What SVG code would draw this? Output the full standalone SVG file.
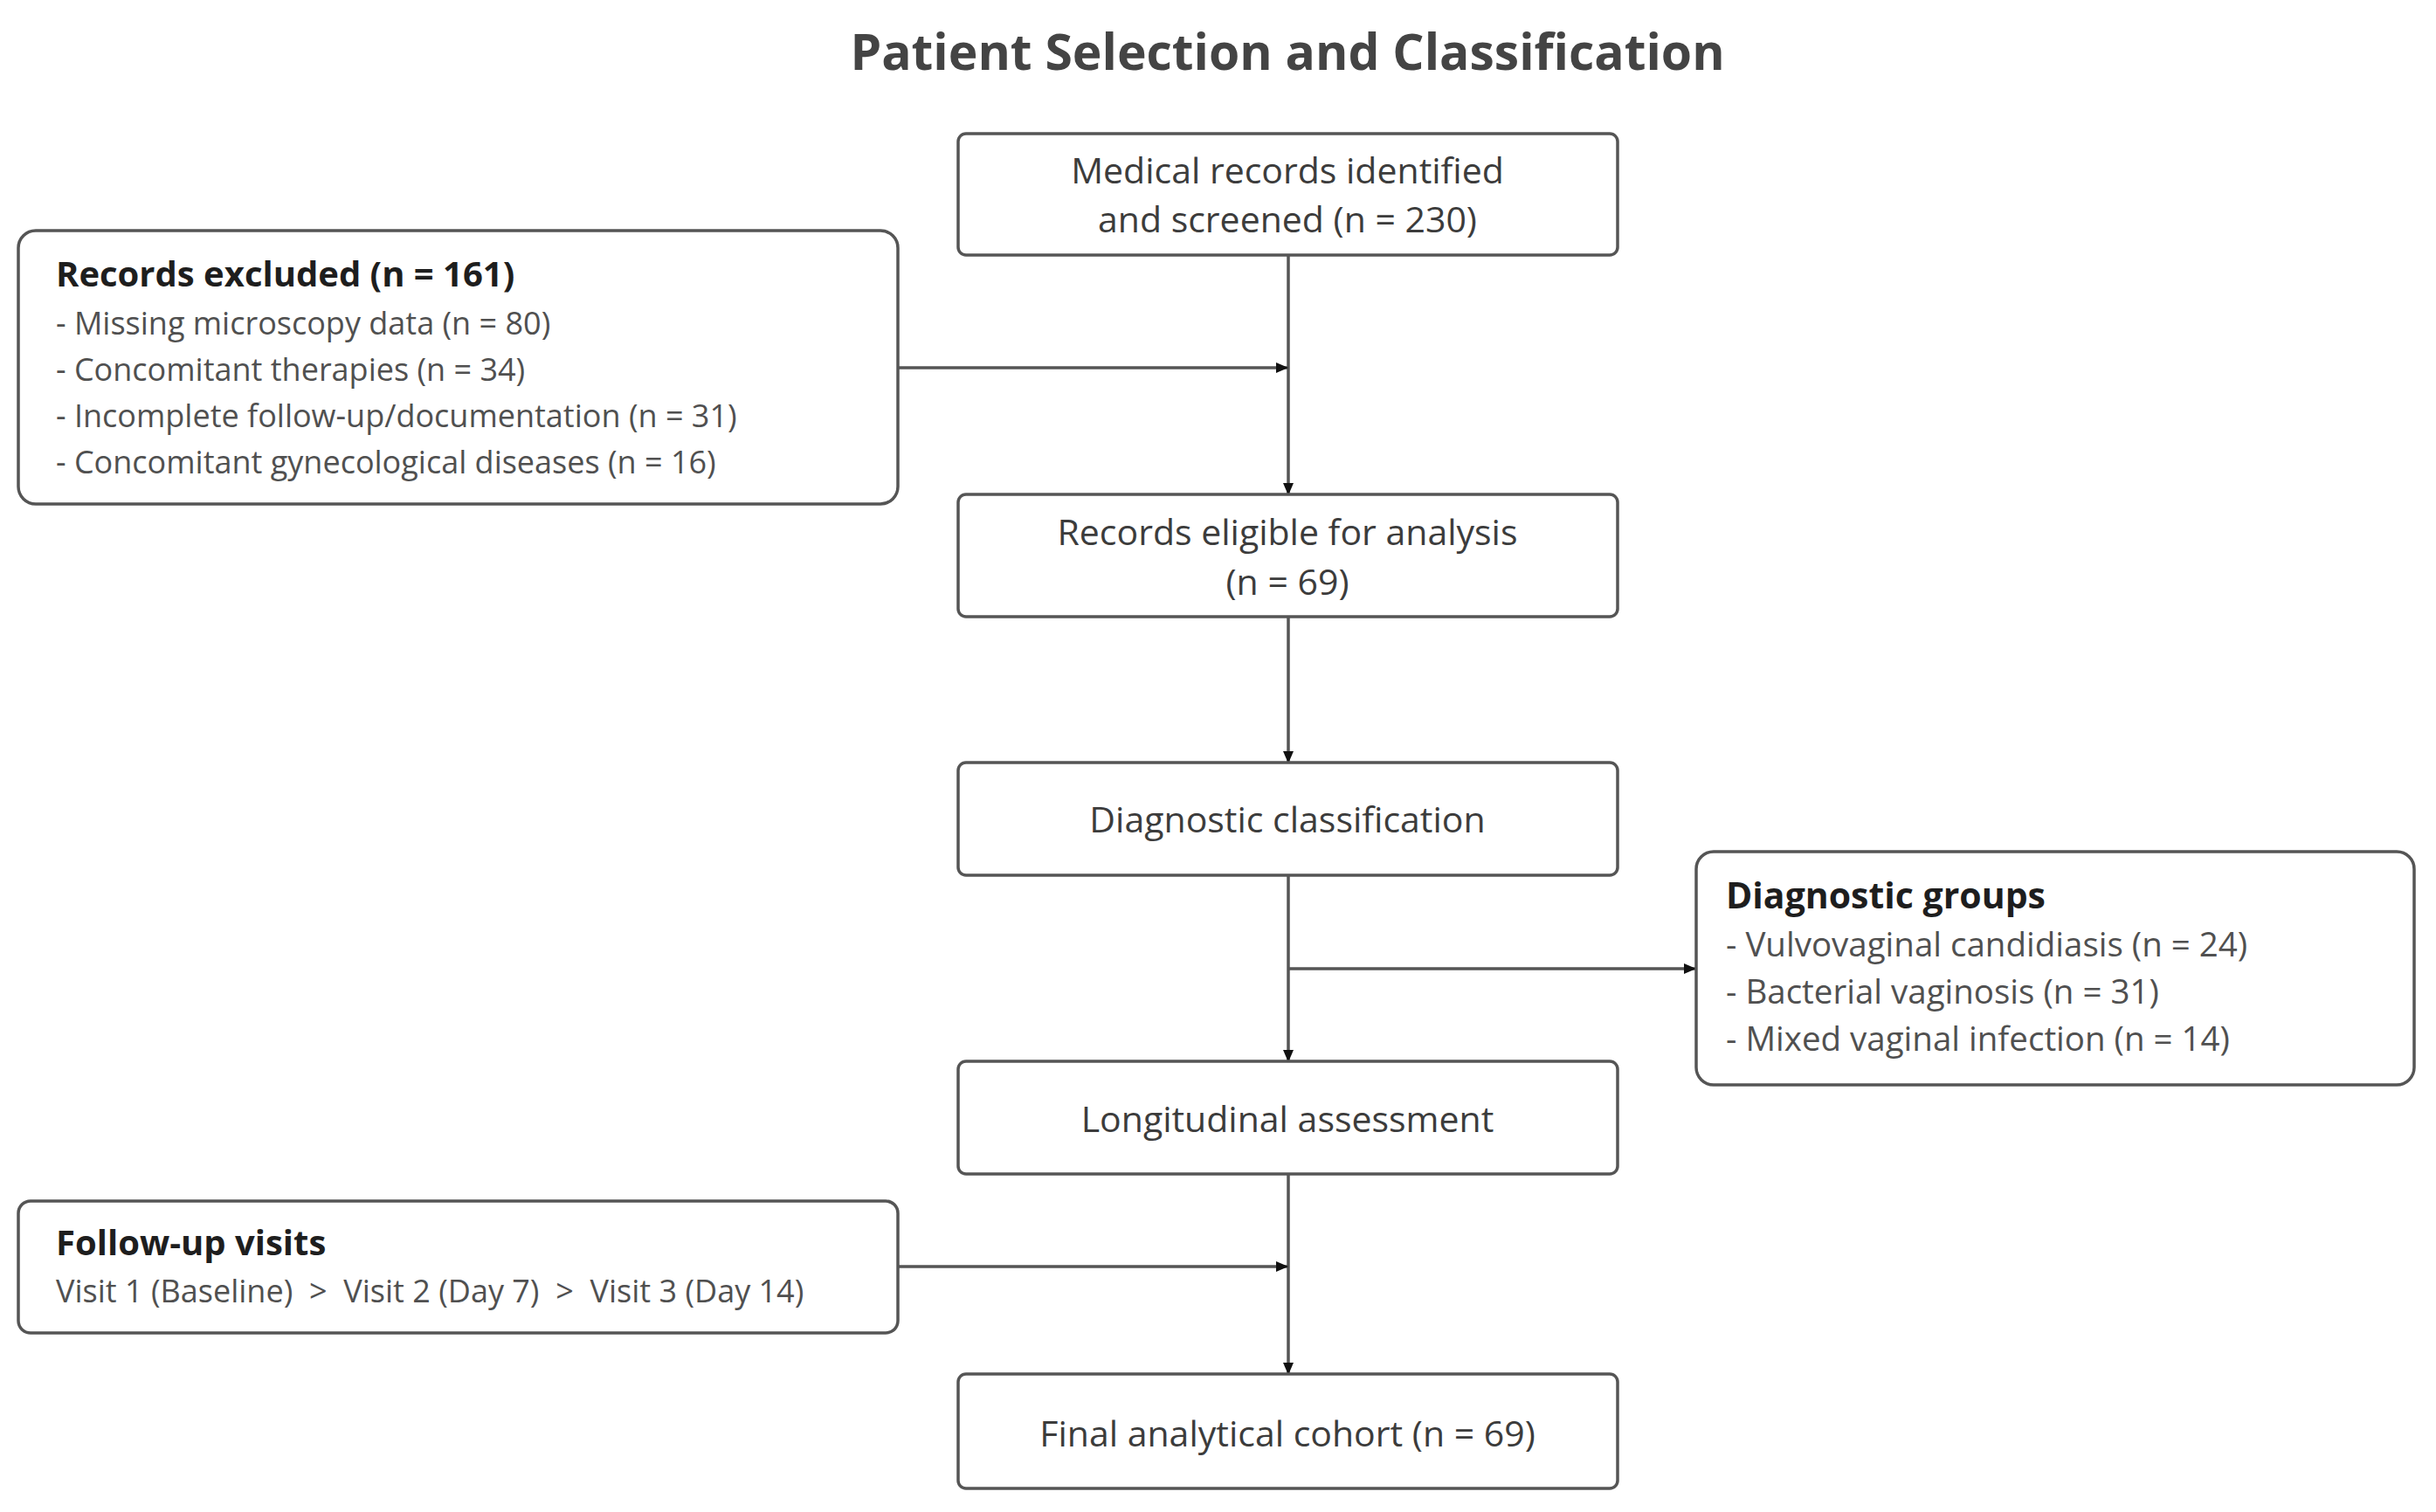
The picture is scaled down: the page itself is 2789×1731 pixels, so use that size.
<svg xmlns="http://www.w3.org/2000/svg" width="2789" height="1731" viewBox="0 0 2789 1731">
<style>
.box{fill:#fff;stroke:#555;stroke-width:3.5}
.t{font-family:"Open Sans","Noto Sans","Liberation Sans",sans-serif;font-size:41px;fill:#3c3c3c;text-anchor:middle}
.h{font-family:"Open Sans","Noto Sans","Liberation Sans",sans-serif;font-size:40px;font-weight:700;fill:#1e1e1e}
.i{font-family:"Open Sans","Noto Sans","Liberation Sans",sans-serif;font-size:36px;fill:#505050}
.g{font-size:38.5px}
.title{font-family:"Open Sans","Noto Sans","Liberation Sans",sans-serif;font-size:57px;font-weight:700;fill:#444;text-anchor:middle}
.c{fill:none;stroke:#555;stroke-width:3.5;marker-end:url(#ah)}
</style>
<defs>
<marker id="ah" markerUnits="userSpaceOnUse" markerWidth="14" markerHeight="12" refX="13" refY="6" orient="auto">
<path d="M0,0 L14,6 L0,12 Z" fill="#111"/>
</marker>
</defs>
<rect width="2789" height="1731" fill="#fff"/>
<text class="title" x="1474" y="80">Patient Selection and Classification</text>

<g id="connectors">
<line class="c" x1="1475" y1="292" x2="1475" y2="566"/>
<line class="c" x1="1028" y1="421" x2="1474" y2="421"/>
<line class="c" x1="1475" y1="706" x2="1475" y2="873"/>
<line class="c" x1="1475" y1="1002" x2="1475" y2="1215"/>
<line class="c" x1="1475" y1="1109" x2="1941" y2="1109"/>
<line class="c" x1="1475" y1="1344" x2="1475" y2="1573"/>
<line class="c" x1="1028" y1="1450" x2="1474" y2="1450"/>
</g>

<g id="screened">
<rect class="box" x="1097" y="153" width="755" height="139" rx="9"/>
<text class="t" x="1474" y="210">Medical records identified</text>
<text class="t" x="1474" y="266">and screened (n = 230)</text>
</g>

<g id="excluded">
<rect class="box" x="21" y="264" width="1007" height="313" rx="20"/>
<text class="h" x="64" y="328">Records excluded (n = 161)</text>
<text class="i" x="64" y="383">- Missing microscopy data (n = 80)</text>
<text class="i" x="64" y="436">- Concomitant therapies (n = 34)</text>
<text class="i" x="64" y="489">- Incomplete follow-up/documentation (n = 31)</text>
<text class="i" x="64" y="542">- Concomitant gynecological diseases (n = 16)</text>
</g>

<g id="eligible">
<rect class="box" x="1097" y="566" width="755" height="140" rx="9"/>
<text class="t" x="1474" y="624">Records eligible for analysis</text>
<text class="t" x="1474" y="681">(n = 69)</text>
</g>

<g id="classification">
<rect class="box" x="1097" y="873" width="755" height="129" rx="9"/>
<text class="t" x="1474" y="953">Diagnostic classification</text>
</g>

<g id="groups">
<rect class="box" x="1942" y="975" width="822" height="267" rx="20"/>
<text class="h" x="1976" y="1040" style="font-size:41px">Diagnostic groups</text>
<text class="i g" x="1976" y="1095">- Vulvovaginal candidiasis (n = 24)</text>
<text class="i g" x="1976" y="1149">- Bacterial vaginosis (n = 31)</text>
<text class="i g" x="1976" y="1203">- Mixed vaginal infection (n = 14)</text>
</g>

<g id="longitudinal">
<rect class="box" x="1097" y="1215" width="755" height="129" rx="9"/>
<text class="t" x="1474" y="1296">Longitudinal assessment</text>
</g>

<g id="followup">
<rect class="box" x="21" y="1375" width="1007" height="151" rx="14"/>
<text class="h" x="64" y="1437">Follow-up visits</text>
<text class="i" x="64" y="1491">Visit 1 (Baseline) &#160;&gt;&#160; Visit 2 (Day 7) &#160;&gt;&#160; Visit 3 (Day 14)</text>
</g>

<g id="final">
<rect class="box" x="1097" y="1573" width="755" height="131" rx="9"/>
<text class="t" x="1474" y="1656">Final analytical cohort (n = 69)</text>
</g>
</svg>
